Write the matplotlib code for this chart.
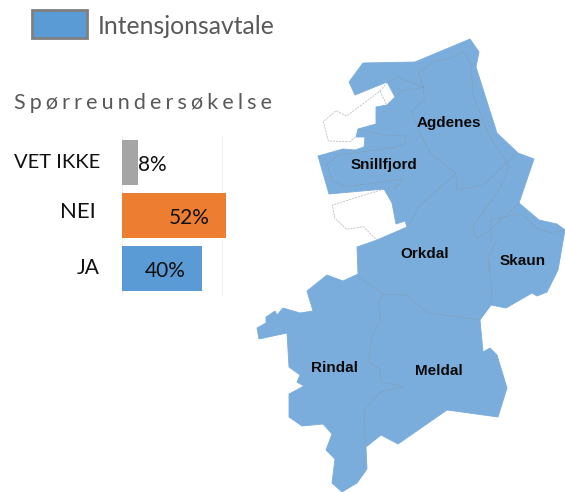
import matplotlib
matplotlib.use("Agg")
import matplotlib.pyplot as plt
from matplotlib.patches import Polygon, Rectangle

# ---- survey data ----
categories = ["JA", "NEI", "VET IKKE"]
shares = [40, 52, 8]
bar_colors = ["#5B9BD5", "#ED7D31", "#A5A5A5"]
value_labels = ["40%", "52%", "8%"]
value_label_pos = [21.5, 33.5, 15]
title_text = "\u200a\u200a\u200a".join("Spørreundersøkelse")
legend_text = "Intensjonsavtale"

# ---- map labels (name, x, y in image pixels) ----
map_labels = [("Agdenes", 449, 123), ("Snillfjord", 384, 165), ("Orkdal", 425, 254),
              ("Skaun", 523, 261), ("Rindal", 334, 368), ("Meldal", 439, 371)]

# ---- map outline in image pixels ----
outline = [(470,39),(479,52),(476,67),(497,133),(518,153),(534,159),(519,203),(539,220),(557,224),(565,230),
           (558,270),(547,292),(537,296),(532,293),(506,308),(491,305),(480,320),(483,352),(490,348),(497,355),
           (507,388),(498,417),(447,410),(398,444),(381,435),(366,447),(367,469),(357,483),(342,492),(332,483),
           (335,459),(326,450),(332,434),(323,424),(302,426),(289,417),(289,394),(304,386),(297,382),(300,375),
           (289,367),(287,333),(259,339),(257,328),(266,323),(266,317),(275,311),(277,315),(283,308),(300,313),
           (313,311),(307,291),(327,275),(343,281),(358,274),(357,247),(377,240),(407,227),(405,221),(396,224),
           (392,203),(384,189),(329,194),(318,156),(343,149),(355,150),(364,147),(365,137),(356,137),(358,129),
           (376,124),(376,107),(387,105),(395,97),(387,82),(355,95),(349,82),(363,63),(415,62)]

def z2(points):
    return [(250 + x / 3, 30 + y / 3) for x, y in points]

def z3(points):
    return [(250 + x / 3, 260 + y / 3) for x, y in points]

borders = [
    z2([(412,157),(390,183),(290,258),(258,242),(220,275),(235,333),(300,335),(318,320)]),
    z2([(390,183),(410,225)]),
    z2([(402,477),(247,525),(255,565),(290,598),(340,590),(380,630)]),
    z2([(415,155),(445,142),(505,165),(520,172),(455,182),(435,200)]),
    z2([(520,172),(505,130),(550,95),(600,85),(640,65),(662,100),(670,200),(720,320),(775,405),(770,430),(740,490),(668,590),(680,625),(720,600),(808,518)]),
    z2([(520,172),(523,208),(485,245),(505,300),(540,370),(618,430),(620,480),(700,465),(800,370)]),
    z2([(618,430),(510,525),(475,585)]),
    z2([(722,635),(722,570),(790,555),(820,555),(860,595),(905,608),(945,600)]),
    z2([(740,630),(715,680),(720,720)]),
    z2([(325,298),(400,315),(465,318),(468,340),(435,352),(265,375),(232,403),(245,450),(285,470),(460,448),(430,480)]),
    z3([(325,50),(400,103),(470,105),(530,158),(690,180)]),
    z3([(715,0),(725,100),(722,135)]),
    z3([(400,103),(385,125),(392,178),(365,235),(355,305),(388,325),(392,365),(460,380),(392,395),(343,450),(345,550)]),
]

W, H = 565, 492
fig = plt.figure(figsize=(W / 100, H / 100), dpi=100, facecolor="white")

# full-figure canvas addressed in image pixels
ax = fig.add_axes([0, 0, 1, 1])
ax.set_xlim(0, W)
ax.set_ylim(H, 0)
ax.axis("off")

ax.add_patch(Polygon(outline, closed=True, facecolor="#7AADDC", edgecolor="#7AADDC", lw=0.6))
for line in borders:
    xs, ys = zip(*line)
    ax.plot(xs, ys, color="#8A939C", lw=0.5, ls=(0, (3, 1.5)), alpha=0.7)

for name, x, y in map_labels:
    ax.text(x, y, name, family="Liberation Sans", weight="bold", fontsize=11,
            color="#0A0A0A", ha="center", va="center")

# legend
ax.add_patch(Rectangle((32, 10), 55, 28, facecolor="#5B9BD5", edgecolor="#7F7F7F", lw=2))
ax.text(98, 26, legend_text, family="Lato", fontsize=17.8, color="#595959", va="center", ha="left")

# title
ax.text(14, 103, title_text, family=["Lato", "DejaVu Sans"], fontsize=15.5, color="#595959",
        va="center", ha="left")

# bar chart, axes spanning image px x 122-222, y 136-295
bx = fig.add_axes([122 / W, 1 - 295 / H, 100 / W, 159 / H])
bx.patch.set_alpha(0)
y_pos = range(len(categories))
bars = bx.barh(list(y_pos), shares, height=45 / 53, color=bar_colors, zorder=2)
for b in bars:
    b.set_clip_on(False)
bx.set_xlim(0, 50)
bx.set_ylim(-0.5, 2.5)
for s in ["top", "bottom"]:
    bx.spines[s].set_visible(False)
for s in ["left", "right"]:
    bx.spines[s].set_color("#F0F0F0")
    bx.spines[s].set_linewidth(0.8)
    bx.spines[s].set_zorder(1)
bx.set_xticks([])
bx.set_yticks([])
for i, (lab, px) in enumerate(zip(value_labels, value_label_pos)):
    bx.text(px, i - 0.05, lab, family="Lato", fontsize=15, color="#111111",
            ha="center", va="center", zorder=3, clip_on=False)

cat_right = [100, 96, 100]
cat_y = [268, 212, 162]
cat_size = [15, 16, 14.5]
for c, r, y, sz in zip(categories, cat_right, cat_y, cat_size):
    ax.text(r, y, c, family="Lato", fontsize=sz, color="#111111", ha="right", va="center")

fig.savefig("out.png", dpi=100)
